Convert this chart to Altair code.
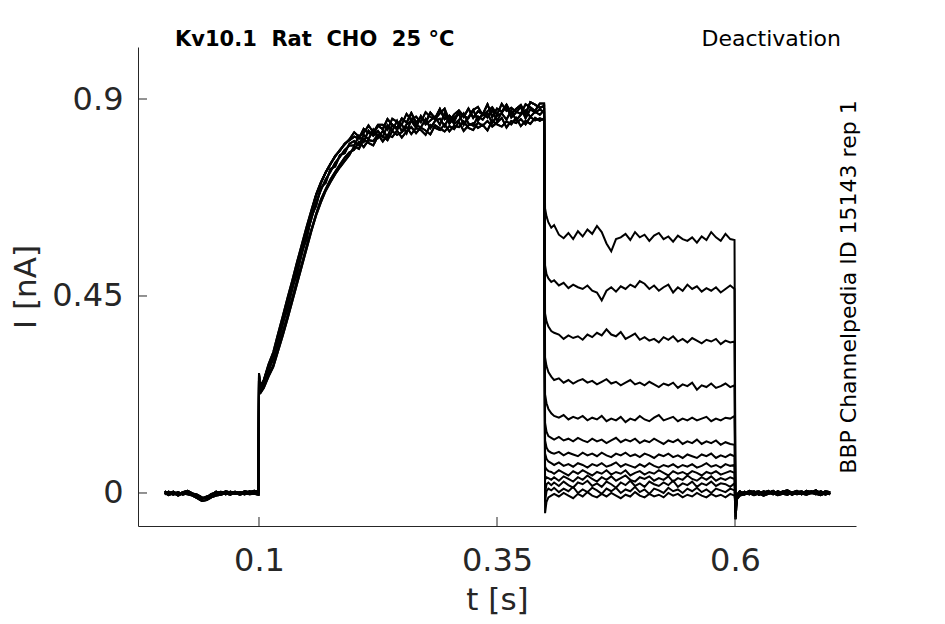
import altair as alt
import pandas as pd

# ---------------- data (times in ms, currents in pA) ----------------
pre_t = [1, 5, 10, 15, 20, 25, 30, 35, 40, 45, 50, 55, 60, 65, 70, 75, 80, 85, 90, 95, 99.5]
pre_a = [4, -2, 3, -3, 2, 5, -1, -4, -10, -12, -4, 3, -2, 4, 1, 3, -1, 4, 2, 5, 3]
pre_b = [-3, 3, -2, 2, -4, 0, -2, -8, -14, -8, -6, -3, 2, -3, 3, -2, 2, -2, 0, 1, -1]
pre_c = [0, -5, 0, -6, -1, -3, -6, -12, -18, -16, -10, -6, -4, 0, -3, 0, -4, 0, -3, -2, -4]
pre_d = [2, 0, -4, 1, -2, 3, -4, -6, -12, -10, -2, 0, 3, -1, -4, 2, 0, -3, 4, -1, 2]

act_t = [100, 100.5, 102] + list(range(105, 400, 5)) + [399.5]
act_a = [272, 255, 242,
         256, 290, 313, 359, 397, 441, 477, 523, 559, 603, 641, 680, 708, 732, 751, 770, 782, 798, 806,
         814, 810, 832, 822, 820, 839, 831, 854, 841, 834, 856, 846, 868, 846, 859, 846, 869, 856, 877, 854,
         862, 849, 872, 859, 878, 857, 872, 865, 888, 859, 878, 871, 887, 866, 877, 886, 866, 893, 887, 880,
         884]
act_b = [268, 248, 236,
         250, 282, 306, 348, 386, 428, 466, 508, 546, 588, 626, 664, 692, 716, 734, 754, 768, 784, 794,
         794, 816, 802, 828, 816, 827, 813, 840, 827, 850, 826, 842, 850, 834, 861, 842, 851, 860, 841, 868,
         844, 857, 866, 841, 858, 875, 850, 867, 858, 875, 850, 869, 883, 858, 869, 882, 856, 877, 869, 876,
         870]
act_c = [265, 244, 232,
         244, 270, 292, 330, 368, 406, 446, 486, 524, 564, 602, 638, 670, 694, 716, 734, 750, 766, 778,
         784, 802, 790, 806, 804, 819, 803, 818, 813, 828, 812, 826, 836, 822, 835, 828, 819, 840, 833, 826,
         838, 831, 848, 827, 840, 845, 834, 841, 828, 851, 842, 837, 849, 842, 857, 838, 850, 843, 857, 850,
         856]
act_d = [270, 252, 240,
         252, 278, 312, 340, 392, 420, 472, 500, 552, 580, 632, 656, 698, 708, 740, 746, 772, 776, 798,
         804, 794, 818, 808, 830, 811, 827, 814, 841, 830, 842, 822, 854, 840, 835, 854, 833, 850, 855, 838,
         860, 843, 852, 867, 844, 839, 860, 853, 868, 845, 862, 867, 853, 874, 851, 864, 874, 859, 871, 864,
         874]
act_e = [274, 258, 246,
         258, 294, 322, 364, 404, 446, 486, 528, 568, 608, 646, 682, 710, 732, 752, 768, 784, 796, 808,
         824, 814, 822, 840, 824, 841, 841, 830, 855, 848, 842, 866, 852, 860, 847, 870, 859, 854, 867, 878,
         850, 865, 874, 861, 856, 875, 882, 863, 872, 881, 864, 889, 873, 880, 871, 866, 888, 881, 873, 890,
         890]
act_f = [262, 242, 230,
         240, 266, 288, 324, 360, 398, 438, 478, 518, 558, 598, 634, 664, 690, 710, 728, 744, 758, 772,
         792, 786, 808, 800, 794, 815, 815, 806, 827, 818, 824, 836, 820, 834, 829, 818, 841, 834, 829, 842,
         826, 839, 836, 849, 834, 829, 846, 839, 850, 837, 846, 857, 835, 850, 845, 854, 842, 859, 851, 856,
         852]

tail_t = [400.5, 402, 404, 407] + list(range(410, 600, 5)) + [599.5]
tails = [
    [650, 632, 618, 606, 612, 590, 582, 594, 580, 598, 586, 602, 592, 610, 596, 570, 552, 580, 584, 592,
     578, 596, 584, 590, 576, 588, 594, 580, 586, 574, 588, 580, 576, 584, 572, 586, 578, 596, 584, 576,
     592, 580, 578],
    [520, 500, 490, 482, 486, 474, 480, 468, 476, 470, 466, 474, 462, 458, 440, 462, 470, 460, 472, 466,
     476, 470, 484, 478, 466, 474, 462, 470, 476, 458, 470, 462, 476, 466, 472, 460, 468, 462, 470, 458,
     466, 474, 466],
    [410, 392, 380, 370, 366, 362, 352, 360, 354, 358, 350, 362, 356, 366, 360, 374, 362, 358, 368, 352,
     358, 364, 350, 356, 348, 352, 344, 356, 350, 358, 346, 352, 344, 354, 348, 342, 350, 346, 352, 340,
     348, 344, 346],
    [310, 290, 276, 266, 258, 262, 252, 258, 250, 256, 260, 252, 256, 248, 254, 260, 250, 254, 246, 252,
     258, 248, 252, 246, 254, 248, 242, 250, 246, 252, 240, 248, 244, 252, 236, 246, 242, 250, 240, 244,
     250, 242, 246],
    [225, 205, 192, 182, 176, 172, 178, 168, 174, 170, 176, 166, 172, 168, 176, 164, 170, 166, 174, 162,
     170, 166, 176, 168, 164, 172, 178, 166, 170, 174, 164, 170, 166, 172, 166, 170, 174, 164, 170, 166,
     172, 170, 176],
    [160, 140, 130, 126, 122, 128, 120, 124, 118, 126, 120, 116, 124, 118, 122, 114, 120, 126, 116, 122,
     118, 124, 114, 120, 116, 124, 118, 112, 120, 116, 122, 112, 118, 114, 122, 112, 118, 114, 120, 110,
     116, 112, 110],
    [120, 104, 96, 92, 90, 94, 86, 92, 88, 84, 92, 86, 90, 84, 92, 86, 82, 90, 86, 92,
     84, 88, 82, 90, 86, 80, 88, 84, 90, 82, 86, 80, 88, 84, 80, 88, 84, 90, 80, 86,
     82, 88, 84],
    [90, 78, 72, 68, 64, 70, 62, 66, 60, 68, 64, 58, 66, 62, 68, 60, 64, 70, 60, 66,
     62, 58, 66, 60, 68, 62, 58, 64, 60, 66, 58, 64, 60, 66, 58, 62, 68, 60, 64, 58,
     66, 62, 64],
    [60, 54, 50, 48, 44, 52, 46, 40, 50, 44, 52, 46, 40, 48, 44, 52, 42, 48, 44, 52,
     40, 46, 50, 42, 48, 44, 52, 46, 40, 50, 44, 48, 42, 50, 46, 40, 48, 44, 50, 42,
     46, 50, 46],
    [30, 36, 34, 30, 36, 28, 38, 32, 26, 36, 30, 40, 32, 26, 36, 30, 38, 28, 34, 40,
     30, 26, 36, 32, 38, 28, 34, 30, 38, 26, 34, 30, 40, 32, 28, 36, 30, 38, 28, 34,
     30, 36, 32],
    [0, 20, 24, 18, 24, 16, 26, 18, 12, 24, 20, 28, 16, 22, 14, 26, 20, 12, 24, 18,
     28, 16, 22, 14, 26, 20, 16, 24, 18, 28, 14, 22, 18, 26, 14, 22, 18, 26, 16, 22,
     20, 14, 22],
    [-20, 4, 10, 6, 12, 2, 10, 4, 14, 0, 8, 2, 12, 6, -2, 10, 4, 12, 0, 8,
     4, 14, 2, 8, -2, 10, 6, 0, 12, 4, 8, 0, 10, 4, 12, 2, 8, 0, 10, 6,
     2, 10, 6],
    [-46, -20, -10, -6, -2, -8, 0, -6, -12, -2, -8, 2, -6, -10, -2, -8, 0, -6, -12, -4,
     -8, 2, -6, -10, -2, -8, -4, -10, 0, -6, -2, -10, -4, -8, 0, -6, -10, -2, -8, -4,
     -10, -2, -6],
]

post_t = [600.5, 602] + list(range(605, 705, 5))
post_a = [-20, -5, 4, -2, 5, 1, -3, 4, 0, 5, -2, 3, 6, 0, 4, -3, 5, 2, 6, -1, 4, 2]
post_b = [-35, -10, -4, 3, -3, 2, 4, -2, 3, -3, 4, -1, 2, -4, 2, 4, -2, 3, -3, 4, -2, 0]
post_c = [-60, -14, -6, -3, 0, -5, -1, -6, -2, 0, -5, -2, -4, 1, -3, -1, -4, 0, -2, -5, 0, -3]
post_d = [-45, -8, 2, -3, 1, 4, -4, 1, 5, -2, 0, 3, -3, 1, 5, -2, 0, 4, -1, 2, -4, 1]

x_ticks = [0.1, 0.35, 0.6]
y_ticks = [0, 0.45, 0.9]

# ---------------- build table ----------------
pres = [pre_a, pre_b, pre_c, pre_d]
acts = [act_a, act_b, act_c, act_d, act_e, act_f]
posts = [post_a, post_b, post_c, post_d]
rows = []
for i, tail in enumerate(tails):
    seg_t = pre_t + act_t + tail_t + post_t
    seg_v = pres[i % 4] + acts[i % 6] + tail + posts[i % 4]
    for k, (tt, vv) in enumerate(zip(seg_t, seg_v)):
        rows.append({"t": tt / 1000.0, "I": vv / 1000.0, "sweep": i, "k": k})
df = pd.DataFrame(rows)

W, H = 718, 479
FONT = "DejaVu Sans"
GREY = "#262626"

xs = alt.Scale(domain=[-0.0271, 0.7271], nice=False, zero=False)
ys = alt.Scale(domain=[-0.0754, 1.0188], nice=False, zero=False)

lines = alt.Chart(df).mark_line(color="black", strokeWidth=2.0).encode(
    x=alt.X("t:Q", scale=xs,
            axis=alt.Axis(values=x_ticks, format=".2~f", title="t [s]", grid=False, ticks=False,
                          domainColor=GREY, domainWidth=1, labelColor=GREY, labelFontSize=32,
                          labelFont=FONT, labelPadding=19, titleFont=FONT, titleFontSize=31,
                          titleColor=GREY, titleFontWeight="normal", titlePadding=9)),
    y=alt.Y("I:Q", scale=ys,
            axis=alt.Axis(values=y_ticks, format=".2~f", title="I [nA]", grid=False, ticks=False,
                          domainColor=GREY, domainWidth=1, labelColor=GREY, labelFontSize=32,
                          labelFont=FONT, labelPadding=15, titleFont=FONT, titleFontSize=31,
                          titleColor=GREY, titleFontWeight="normal", titlePadding=9)),
    detail="sweep:N",
    order="k:Q",
)

ytick_df = pd.DataFrame({"v": y_ticks})
xtick_df = pd.DataFrame({"v": x_ticks})
yticks = alt.Chart(ytick_df).mark_rule(color=GREY, strokeWidth=1).encode(
    y=alt.Y("v:Q", scale=ys), x=alt.value(0), x2=alt.value(9))
xticks = alt.Chart(xtick_df).mark_rule(color=GREY, strokeWidth=1).encode(
    x=alt.X("v:Q", scale=xs), y=alt.value(H), y2=alt.value(H - 9))

NB = "\u00a0"
title_text = f"Kv10.1{NB}{NB}Rat{NB}{NB}CHO{NB}{NB}25{NB}°C"
title_l = alt.Chart(pd.DataFrame({"s": [title_text]})).mark_text(
    font=FONT, fontSize=21, fontWeight="bold", color="black", align="left", baseline="middle"
).encode(text="s:N", x=alt.value(37), y=alt.value(-7))
title_r = alt.Chart(pd.DataFrame({"s": ["Deactivation"]})).mark_text(
    font=FONT, fontSize=22, color="black", align="right", baseline="middle"
).encode(text="s:N", x=alt.value(703), y=alt.value(-8))
side = alt.Chart(pd.DataFrame({"s": ["BBP Channelpedia ID 15143 rep 1"]})).mark_text(
    font=FONT, fontSize=22, color="black", align="center", baseline="middle", angle=270
).encode(text="s:N", x=alt.value(711), y=alt.value(240))

chart = alt.layer(lines, yticks, xticks, title_l, title_r, side).properties(
    width=W, height=H,
    autosize=alt.AutoSizeParams(type="none"),
    padding={"left": 130, "top": 39, "right": 80, "bottom": 95},
).configure(background="white").configure_view(stroke=None, strokeWidth=0)

chart.save("out.html", embed_options={"renderer": "svg", "actions": False})
